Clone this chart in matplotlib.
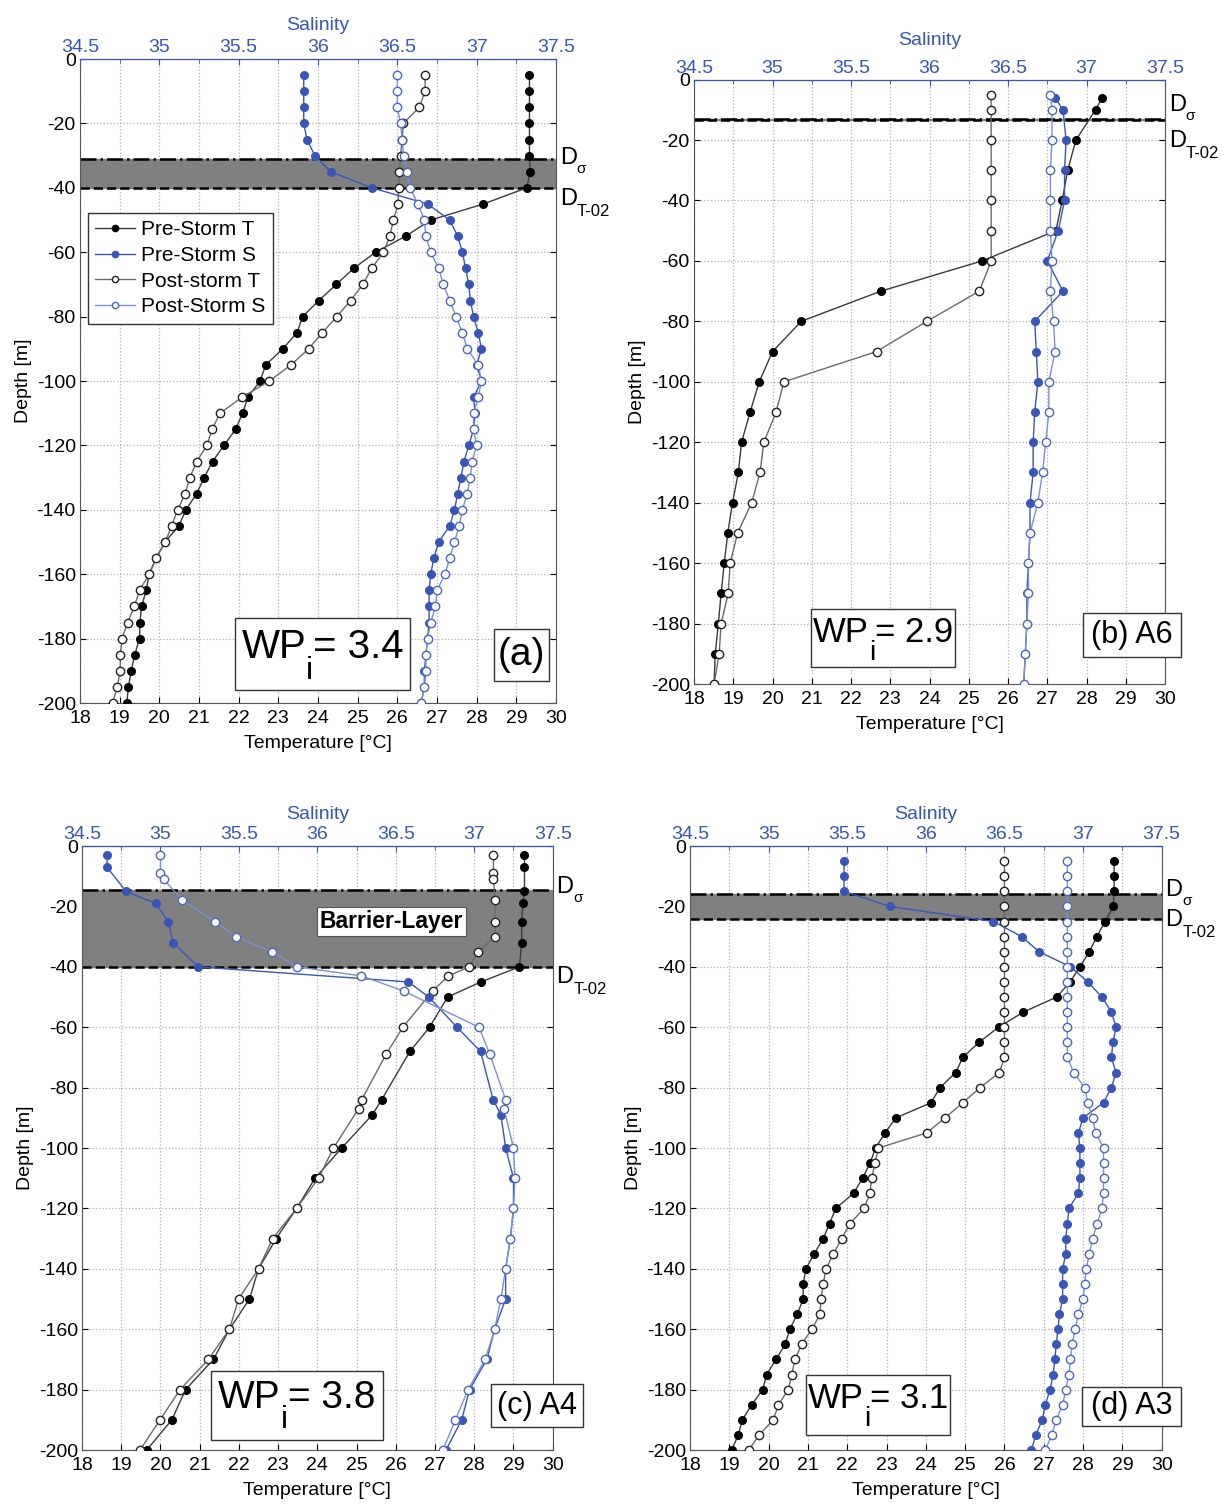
import numpy as np
import matplotlib.pyplot as plt
from matplotlib.lines import Line2D
from matplotlib.patches import Rectangle
from matplotlib.ticker import FormatStrFormatter
import matplotlib.transforms as mtransforms

plt.rcParams['font.family'] = ['Liberation Sans', 'DejaVu Sans']
plt.rcParams['axes.unicode_minus'] = False

# ---------------- data ----------------
# (a) every 5 m from -5 to -200
depth_a = list(range(-5, -205, -5))
a_preT = [29.33, 29.33, 29.33, 29.33, 29.33, 29.33, 29.35, 29.26, 28.17, 26.84,
          26.21, 25.45, 24.90, 24.46, 24.02, 23.61, 23.47, 23.11, 22.68, 22.54,
          22.23, 22.10, 21.92, 21.63, 21.34, 21.13, 20.94, 20.67, 20.49, 20.14,
          19.92, 19.74, 19.67, 19.55, 19.51, 19.50, 19.38, 19.29, 19.22, 19.18]
a_postT = [26.70, 26.70, 26.55, 26.15, 26.12, 26.08, 26.05, 26.03, 26.02, 25.90,
           25.81, 25.65, 25.35, 25.13, 24.82, 24.47, 24.11, 23.76, 23.32, 22.77,
           22.09, 21.53, 21.33, 21.20, 20.94, 20.77, 20.65, 20.46, 20.31, 20.15,
           19.92, 19.74, 19.50, 19.37, 19.20, 19.06, 19.02, 19.01, 18.94, 18.82]
a_preS = [35.91, 35.91, 35.91, 35.91, 35.93, 35.98, 36.08, 36.34, 36.69, 36.83,
          36.88, 36.91, 36.93, 36.95, 36.96, 36.98, 37.01, 37.03, 37.00, 37.03,
          36.98, 36.99, 36.98, 36.95, 36.92, 36.90, 36.88, 36.86, 36.83, 36.76,
          36.73, 36.71, 36.70, 36.70, 36.70, 36.69, 36.68, 36.67, 36.67, 36.65]
a_postS = [36.50, 36.50, 36.50, 36.52, 36.53, 36.54, 36.56, 36.58, 36.63, 36.67,
           36.68, 36.71, 36.76, 36.79, 36.83, 36.87, 36.91, 36.94, 37.01, 37.03,
           37.01, 36.98, 36.98, 37.00, 36.97, 36.96, 36.94, 36.91, 36.89, 36.86,
           36.83, 36.80, 36.75, 36.74, 36.71, 36.69, 36.68, 36.68, 36.67, 36.65]
band_a = (-31, -40)

# (b) A6
depth_b_pre = [-6, -10, -20, -30, -40, -50, -60, -70, -80, -90, -100,
               -110, -120, -130, -140, -150, -160, -170, -180, -190, -200]
depth_b_post = [-5, -10, -20, -30, -40, -50, -60, -70, -80, -90, -100,
                -110, -120, -130, -140, -150, -160, -170, -180, -190, -200]
b_preT = [28.40, 28.23, 27.73, 27.52, 27.38, 27.22, 25.34, 22.76, 20.73, 20.00, 19.66,
          19.43, 19.21, 19.13, 18.98, 18.86, 18.77, 18.69, 18.62, 18.54, 18.51]
b_preS = [36.80, 36.85, 36.87, 36.86, 36.86, 36.82, 36.75, 36.85, 36.67, 36.68, 36.69,
          36.67, 36.66, 36.66, 36.64, 36.64, 36.63, 36.62, 36.62, 36.61, 36.60]
b_postT = [25.57, 25.57, 25.57, 25.57, 25.57, 25.57, 25.57, 25.27, 23.93, 22.65, 20.29,
           20.09, 19.78, 19.68, 19.47, 19.11, 18.92, 18.87, 18.69, 18.64, 18.51]
b_postS = [36.77, 36.78, 36.78, 36.77, 36.77, 36.77, 36.78, 36.77, 36.79, 36.80, 36.76,
           36.76, 36.74, 36.72, 36.69, 36.64, 36.63, 36.63, 36.62, 36.61, 36.60]
band_b = (-13, -13.5)

# (c) A4
depth_c_pre = [-3, -7, -15, -19, -25, -32, -40, -45, -50, -60, -68, -84, -89, -100,
               -110, -120, -130, -140, -150, -160, -170, -180, -190, -200]
c_preT = [29.28, 29.28, 29.28, 29.24, 29.21, 29.21, 29.15, 28.17, 27.32, 26.86, 26.36,
          25.64, 25.40, 24.62, 23.94, 23.47, 22.95, 22.50, 22.27, 21.76, 21.35, 20.64,
          20.29, 19.65]
c_preS = [34.66, 34.66, 34.78, 34.97, 35.05, 35.08, 35.24, 36.58, 36.71, 36.89, 37.04,
          37.12, 37.17, 37.20, 37.25, 37.25, 37.23, 37.20, 37.20, 37.13, 37.08, 36.97,
          36.92, 36.82]
depth_c_post = [-3, -9, -11, -18, -25, -30, -35, -40, -43, -48, -60, -69, -84, -87, -100,
                -110, -120, -130, -140, -150, -160, -170, -180, -190, -200]
c_postT = [28.49, 28.49, 28.49, 28.53, 28.53, 28.53, 28.10, 27.87, 27.34, 26.94, 26.18,
           25.75, 25.13, 25.05, 24.41, 24.03, 23.47, 22.86, 22.50, 21.99, 21.76, 21.22,
           20.50, 19.99, 19.48]
c_postS = [35.00, 35.00, 35.02, 35.14, 35.35, 35.48, 35.71, 35.87, 36.28, 36.55, 37.03,
           37.10, 37.20, 37.19, 37.25, 37.26, 37.25, 37.23, 37.20, 37.17, 37.13, 37.07,
           36.96, 36.88, 36.80]
band_c = (-14.5, -40)

# (d) A3 every 5 m
depth_d = list(range(-5, -205, -5))
d_preT = [28.79, 28.79, 28.79, 28.77, 28.56, 28.35, 28.16, 27.92, 27.67, 27.33,
          26.48, 25.85, 25.35, 24.94, 24.76, 24.36, 24.13, 23.24, 22.96, 22.72,
          22.58, 22.39, 22.16, 21.71, 21.55, 21.39, 21.16, 20.95, 20.88, 20.88,
          20.73, 20.54, 20.42, 20.19, 19.95, 19.85, 19.57, 19.33, 19.23, 19.06]
d_postT = [26.00, 26.00, 26.00, 26.00, 26.00, 26.00, 26.00, 26.00, 26.00, 26.00,
           26.00, 26.00, 26.00, 26.00, 25.87, 25.38, 24.94, 24.49, 24.02, 22.79,
           22.71, 22.62, 22.58, 22.43, 22.07, 21.86, 21.65, 21.46, 21.39, 21.33,
           21.31, 21.10, 20.84, 20.67, 20.59, 20.50, 20.25, 20.12, 19.76, 19.50]
d_preS = [35.48, 35.48, 35.48, 35.77, 36.43, 36.61, 36.72, 36.92, 37.03, 37.12,
          37.18, 37.21, 37.19, 37.18, 37.21, 37.18, 37.13, 37.00, 36.97, 36.98,
          36.98, 36.98, 36.97, 36.91, 36.90, 36.89, 36.89, 36.87, 36.87, 36.87,
          36.85, 36.84, 36.83, 36.82, 36.81, 36.79, 36.76, 36.74, 36.70, 36.67]
d_postS = [36.90, 36.90, 36.90, 36.90, 36.90, 36.90, 36.90, 36.90, 36.90, 36.90,
           36.90, 36.90, 36.90, 36.90, 36.94, 37.01, 37.03, 37.06, 37.08, 37.13,
           37.13, 37.13, 37.13, 37.12, 37.09, 37.06, 37.04, 37.02, 37.01, 37.00,
           36.97, 36.95, 36.93, 36.92, 36.91, 36.89, 36.87, 36.83, 36.80, 36.76]
band_d = (-16, -24)

BLUE = '#3a55b4'
LBLUE = '#7d8fd2'

fig = plt.figure(figsize=(12.31, 15.07), dpi=100)
renderer = fig.canvas.get_renderer()


def chain(ax, x, y, parts, trans, center=True, z=6):
    # place text pieces one after another, each (text, size, drop in px)
    objs = []
    widths = []
    for s, fs, dy in parts:
        t = ax.text(0, 0, s, fontsize=fs, va='baseline', ha='left', clip_on=False,
                    zorder=z)
        objs.append(t)
        widths.append(t.get_window_extent(renderer).width)
    off = -sum(widths) / 2 if center else 0
    for t, w, (s, fs, dy) in zip(objs, widths, parts):
        t.set_position((x, y))
        t.set_transform(mtransforms.offset_copy(trans, fig=fig, x=off, y=-dy,
                                                units='dots'))
        off += w


def boxed(ax, box, text, fs):
    x, y, w, h = box
    ax.add_patch(Rectangle((x, y), w, h, transform=ax.transAxes, fc='white',
                           ec='#333333', lw=1, clip_on=False, zorder=5))
    ax.text(x + w / 2, y + h / 2, text, transform=ax.transAxes, fontsize=fs,
            ha='center', va='center', zorder=6, clip_on=False)


def draw(rect, dpre, tpre, spre, dpost, tpost, spost, band, dlab, wp, wpbox, wpfs,
         tag, tagbox, tagfs, sal_pad, legend=False, barrier=False):
    ax = fig.add_axes(rect)
    ax.set_xlim(18, 30)
    ax.set_ylim(-200, 0)
    ax.set_xticks(range(18, 31))
    ax.set_yticks(range(-200, 1, 20))
    ax.grid(True, ls=':', color='#b0b0b0', lw=0.9)
    ax.tick_params(direction='in', top=False, right=True, labelsize=14, length=4)
    ax.tick_params(axis='x', pad=5)
    ax.tick_params(axis='y', pad=3)
    ax.set_xlabel('Temperature [°C]', fontsize=14, labelpad=6)
    ax.set_ylabel('Depth [m]', fontsize=14, labelpad=3)
    for s in ['left', 'bottom', 'right']:
        ax.spines[s].set_color('#555555')

    ax.axhspan(band[1], band[0], color='#808080', zorder=1.8)
    ax.axhline(band[0], color='k', ls='-.', lw=1.8, zorder=2)
    ax.axhline(band[1], color='k', ls='--', lw=1.8, zorder=2)

    ax.plot(tpre, dpre, '-o', color='#3a3a3a', mfc='k', mec='k', ms=5.5, lw=1, zorder=3)
    ax.plot(tpost, dpost, '-o', color='#6a6a6a', mfc='white', mec='#222222', ms=6,
            mew=1, lw=1, zorder=3)

    ax2 = ax.twiny()
    ax2.set_xlim(34.5, 37.5)
    ax2.set_xticks(np.arange(34.5, 37.51, 0.5))
    ax2.set_xticks(np.arange(34.5, 37.51, 0.25), minor=True)
    ax2.xaxis.set_major_formatter(FormatStrFormatter('%g'))
    ax2.tick_params(axis='x', which='both', direction='in', colors=BLUE, labelsize=14,
                    pad=2)
    ax2.tick_params(axis='x', which='major', length=4)
    ax2.tick_params(axis='x', which='minor', length=3)
    ax2.spines['top'].set_color(BLUE)
    for s in ['left', 'bottom', 'right']:
        ax2.spines[s].set_visible(False)
    ax2.set_xlabel('Salinity', color=BLUE, fontsize=14, labelpad=sal_pad)

    ax2.plot(spre, dpre, '-o', color=BLUE, mfc=BLUE, mec=BLUE, ms=5.5, lw=1, zorder=3)
    ax2.plot(spost, dpost, '-o', color=LBLUE, mfc='white', mec='#4f65bd', ms=6,
             mew=1, lw=1, zorder=3)

    # layer depth labels to the right of the axes
    tr = mtransforms.blended_transform_factory(ax2.transAxes, ax2.transData)
    chain(ax2, 1.008, dlab[0], [('D', 17, 0), ('σ', 11, 9)], tr, center=False)
    chain(ax2, 1.008, dlab[1], [('D', 17, 0), ('T-02', 12, 11)], tr, center=False)

    # WP box
    x, y, w, h = wpbox
    ax2.add_patch(Rectangle((x, y), w, h, transform=ax2.transAxes, fc='white',
                            ec='#333333', lw=1, zorder=5))
    k = wpfs / 29.0
    chain(ax2, x + w / 2, 0.070,
          [('WP', wpfs, 0), ('i', wpfs * 0.8, 21 * k), ('= ' + wp, wpfs, 0)],
          ax2.transAxes)

    boxed(ax2, tagbox, tag, tagfs)

    if barrier:
        ax2.text(0.657, -25, 'Barrier-Layer', transform=tr, fontsize=16.5,
                 fontweight='bold', ha='center', va='center', zorder=6,
                 bbox=dict(boxstyle='square,pad=0.12', fc='white', ec='#555555', lw=0.8))

    if legend:
        handles = [
            Line2D([], [], color='#3a3a3a', marker='o', mfc='k', mec='k', ms=4.5, lw=1),
            Line2D([], [], color=BLUE, marker='o', mfc=BLUE, mec=BLUE, ms=4.5, lw=1),
            Line2D([], [], color='#6a6a6a', marker='o', mfc='white', mec='#222222',
                   ms=4.5, lw=1),
            Line2D([], [], color=LBLUE, marker='o', mfc='white', mec='#4f65bd', ms=4.5,
                   lw=1),
        ]
        labels = ['Pre-Storm T', 'Pre-Storm S', 'Post-storm T', 'Post-Storm S']
        leg = ax2.legend(handles, labels, loc='upper left', bbox_to_anchor=(0.017, 0.761),
                         borderaxespad=0, fontsize=15, fancybox=False, framealpha=1,
                         edgecolor='#333333', handlelength=1.9, handletextpad=0.3,
                         labelspacing=0.32, borderpad=0.35)
        leg.get_frame().set_linewidth(1)
        leg.set_zorder(7)
    return ax, ax2


draw([0.065, 0.5335, 0.3867, 0.4273], depth_a, a_preT, a_preS, depth_a, a_postT, a_postS,
     band_a, (-32.6, -45.3), '3.4', (0.326, 0.020, 0.368, 0.112), 29,
     '(a)', (0.870, 0.0346, 0.1155, 0.080), 28, 7, legend=True)
draw([0.5638, 0.5461, 0.3826, 0.4011], depth_b_pre, b_preT, b_preS, depth_b_post, b_postT,
     b_postS, band_b, (-10.3, -22.2), '2.9', (0.248, 0.0276, 0.306, 0.0964), 25,
     '(b) A6', (0.8265, 0.0447, 0.208, 0.0728), 22, 11)
draw([0.0666, 0.0378, 0.3824, 0.4008], depth_c_pre, c_preT, c_preS, depth_c_post, c_postT,
     c_postS, band_c, (-15.6, -45.5), '3.8', (0.274, 0.0166, 0.365, 0.114), 28,
     '(c) A4', (0.869, 0.0386, 0.1955, 0.070), 22, 5, barrier=True)
draw([0.5605, 0.0378, 0.3832, 0.4008], depth_d, d_preT, d_preS, depth_d, d_postT, d_postS,
     band_d, (-16.5, -26.5), '3.1', (0.245, 0.0248, 0.307, 0.099), 25,
     '(d) A3', (0.832, 0.040, 0.208, 0.0646), 22, 5)

fig.savefig('out.png', dpi=100)
